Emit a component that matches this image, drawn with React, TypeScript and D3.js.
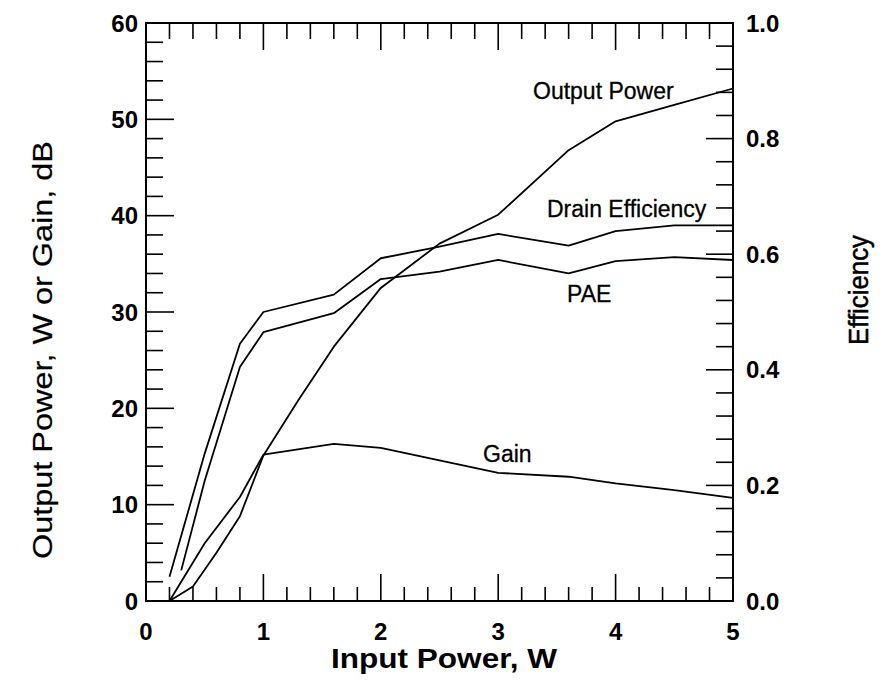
import React from "react";
import * as d3 from "d3";

// Data
const outputPowerX = [0.2, 0.4, 0.6, 0.8, 1.0, 1.3, 1.6, 2.0, 2.5, 3.0, 3.6, 4.0, 4.5, 5.0];
const outputPowerY = [0, 1.5, 5.0, 8.8, 15.1, 20.9, 26.4, 32.5, 37.1, 40.1, 46.8, 49.8, 51.5, 53.2];

const gainX = [0.2, 0.5, 0.8, 1.0, 1.6, 2.0, 3.0, 3.6, 4.0, 4.5, 5.0];
const gainY = [0, 6.0, 10.8, 15.2, 16.3, 15.9, 13.3, 12.9, 12.2, 11.5, 10.7];

const drainX = [0.2, 0.5, 0.8, 1.0, 1.6, 2.0, 2.5, 3.0, 3.6, 4.0, 4.5, 5.0];
const drainEff = [0.042, 0.255, 0.445, 0.5, 0.53, 0.593, 0.613, 0.635, 0.615, 0.64, 0.65, 0.65];

const paeX = [0.3, 0.5, 0.8, 1.0, 1.6, 2.0, 2.5, 3.0, 3.6, 4.0, 4.5, 5.0];
const paeEff = [0.053, 0.208, 0.405, 0.465, 0.498, 0.557, 0.57, 0.59, 0.567, 0.588, 0.595, 0.59];

const xTicks = [0, 1, 2, 3, 4, 5];
const yLeftTicks = [0, 10, 20, 30, 40, 50, 60];
const yRightTicks = [0, 0.2, 0.4, 0.6, 0.8, 1.0];

const FONT = "'Liberation Sans', Arial, sans-serif";

export default function App() {
  const W = 894, H = 689;
  const L = 146, R = 733, T = 23, B = 601;
  const x = d3.scaleLinear().domain([0, 5]).range([L, R]);
  const yL = d3.scaleLinear().domain([0, 60]).range([B, T]);
  const yR = d3.scaleLinear().domain([0, 1]).range([B, T]);

  const lineL = (xs: number[], ys: number[]) =>
    d3.line<number>().x((_, i) => x(xs[i])).y((d) => yL(d))(ys) as string;
  const lineR = (xs: number[], ys: number[]) =>
    d3.line<number>().x((_, i) => x(xs[i])).y((d) => yR(d))(ys) as string;

  const xMinor = d3.range(0, 5.0001, 0.2);
  const yLMinor = d3.range(0, 60.0001, 2);
  const yRMinor = d3.range(0, 1.0001, 0.04);
  const isMajor = (v: number, step: number) => Math.abs(v / step - Math.round(v / step)) < 1e-6;

  const textStyle = { fontFamily: FONT, fill: "#000" } as const;

  return (
    <svg width={W} height={H} style={{ position: "absolute", left: 0, top: 0, background: "#fff" }}>
      <rect x={0} y={0} width={W} height={H} fill="#fff" />
      {/* ticks */}
      <g stroke="#000" strokeWidth={1.6}>
        {xMinor.map((v, i) => {
          const major = isMajor(v, 1);
          return (
            <g key={"xt" + i}>
              <line x1={x(v)} x2={x(v)} y1={B} y2={B - (major ? 27 : 14)} />
              <line x1={x(v)} x2={x(v)} y1={T} y2={T + (major ? 27 : 16)} />
            </g>
          );
        })}
        {yLMinor.map((v, i) => {
          const major = isMajor(v, 10);
          return <line key={"yl" + i} x1={L} x2={L + (major ? 28 : 17)} y1={yL(v)} y2={yL(v)} />;
        })}
        {yRMinor.map((v, i) => {
          const major = isMajor(v, 0.2);
          return <line key={"yr" + i} x1={R} x2={R - (major ? 27 : 17)} y1={yR(v)} y2={yR(v)} />;
        })}
      </g>
      {/* frame */}
      <rect x={L} y={T} width={R - L} height={B - T} fill="none" stroke="#000" strokeWidth={2} />

      {/* curves */}
      <g fill="none" stroke="#000" strokeWidth={1.8} strokeLinejoin="round">
        <path d={lineL(outputPowerX, outputPowerY)} />
        <path d={lineL(gainX, gainY)} />
        <path d={lineR(drainX, drainEff)} />
        <path d={lineR(paeX, paeEff)} />
      </g>

      {/* tick labels */}
      <g style={textStyle} fontSize={24} fontWeight="bold">
        {yLeftTicks.map((v) => (
          <text key={"lyl" + v} x={L - 8} y={yL(v)} textAnchor="end" dominantBaseline="central">
            {v}
          </text>
        ))}
        {xTicks.map((v) => (
          <text key={"lx" + v} x={x(v)} y={640} textAnchor="middle">
            {v}
          </text>
        ))}
        {yRightTicks.map((v) => (
          <text key={"lyr" + v} x={R + 13} y={yR(v)} textAnchor="start" dominantBaseline="central">
            {v.toFixed(1)}
          </text>
        ))}
      </g>

      {/* axis titles */}
      <g style={textStyle} fontSize={27}>
        <text x={444} y={668} textAnchor="middle" fontWeight="bold" textLength={226} lengthAdjust="spacingAndGlyphs">
          Input Power, W
        </text>
        <text
          transform={`translate(52, 350) rotate(-90)`}
          textAnchor="middle"
          textLength={418}
          lengthAdjust="spacingAndGlyphs"
          stroke="#000"
          strokeWidth={0.2}
        >
          Output Power, W or  Gain, dB
        </text>
        <text
          transform={`translate(868, 290) rotate(-90)`}
          textAnchor="middle"
          textLength={110}
          lengthAdjust="spacingAndGlyphs"
          stroke="#000"
          strokeWidth={0.5}
        >
          Efficiency
        </text>
      </g>

      {/* curve annotations */}
      <g style={textStyle} fontSize={23} stroke="#000" strokeWidth={0.3}>
        <text x={533} y={99}>Output Power</text>
        <text x={547} y={217}>Drain Efficiency</text>
        <text x={567} y={302}>PAE</text>
        <text x={483} y={462}>Gain</text>
      </g>
    </svg>
  );
}
